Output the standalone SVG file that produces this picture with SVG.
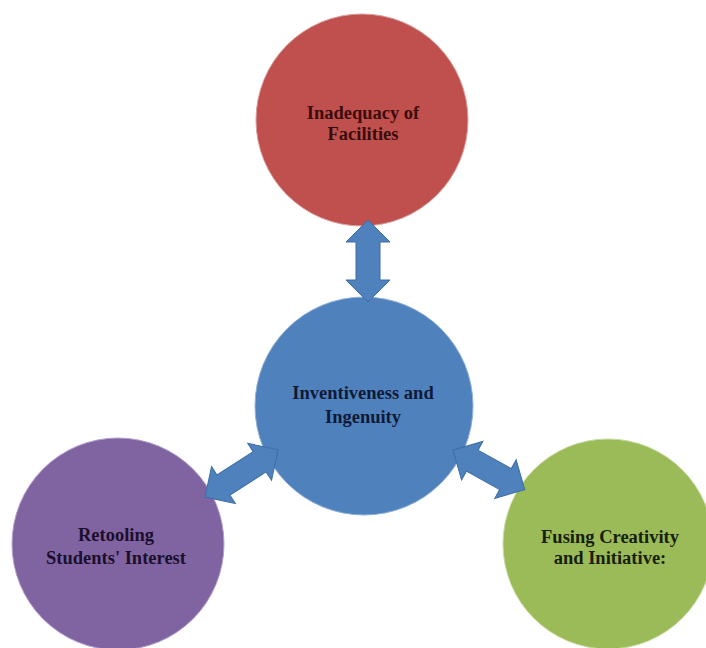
<svg xmlns="http://www.w3.org/2000/svg" width="706" height="648" viewBox="0 0 706 648">
<style>
.lbl{font-family:"Liberation Serif","Times New Roman",serif;font-weight:bold;font-size:18.5px;text-anchor:middle}
.arr{fill:#4F81BD;stroke:#3d6da6;stroke-width:1;stroke-linejoin:miter}
</style>
<rect width="706" height="648" fill="#ffffff"/>
<g id="node-facilities">
<circle cx="362" cy="120" r="106" fill="#C0504D" stroke="#d9a09e" stroke-width="1"/>
<text class="lbl" x="363" y="119" fill="#3a0c0c">Inadequacy of</text>
<text class="lbl" x="363" y="140" fill="#3a0c0c">Facilities</text>
</g>
<g id="node-inventiveness">
<circle cx="364" cy="406" r="109" fill="#4F81BD" stroke="#8fb0d8" stroke-width="1"/>
<text class="lbl" x="363" y="399" fill="#0f1a36">Inventiveness and</text>
<text class="lbl" x="363" y="423" fill="#0f1a36">Ingenuity</text>
</g>
<g id="node-retooling">
<circle cx="118" cy="544" r="106" fill="#8064A2" stroke="#b3a2c8" stroke-width="1"/>
<text class="lbl" x="116" y="541" fill="#1c0f2c">Retooling</text>
<text class="lbl" x="116" y="564" fill="#1c0f2c">Students' Interest</text>
</g>
<g id="node-fusing">
<circle cx="608" cy="544" r="105" fill="#9BBB59" stroke="#c8dba0" stroke-width="1"/>
<text class="lbl" x="610" y="543" fill="#17200a">Fusing Creativity</text>
<text class="lbl" x="610" y="564" fill="#17200a">and Initiative:</text>
</g>
<g id="connectors">
<path class="arr" transform="translate(368,220) rotate(90)" d="M0,0 L22,-22 L22,-12 L60,-12 L60,-22 L82,0 L60,22 L60,12 L22,12 L22,22 Z"/>
<path class="arr" transform="translate(205,497) rotate(-32.8)" d="M0,0 L22,-22 L22,-12 L65,-12 L65,-22 L87,0 L65,22 L65,12 L22,12 L22,22 Z"/>
<path class="arr" transform="translate(453,450) rotate(29)" d="M0,0 L22,-22 L22,-12 L60,-12 L60,-22 L82,0 L60,22 L60,12 L22,12 L22,22 Z"/>
</g>
</svg>
